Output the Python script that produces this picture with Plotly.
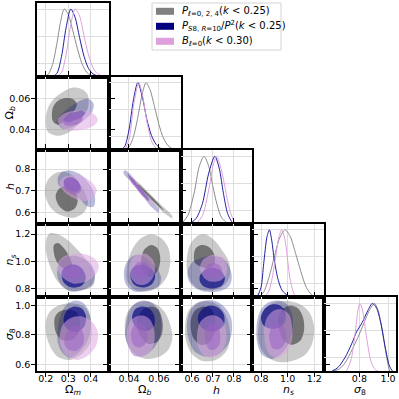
import plotly.graph_objects as go

# parameters, labels and plot ranges
params = ["om", "ob", "h", "ns", "s8"]
labels = ["Ω<sub><i>m</i></sub>", "Ω<sub><i>b</i></sub>", "<i>h</i>",
          "<i>n<sub>s</sub></i>", "<i>σ</i><sub>8</sub>"]
ranges = {"om": [0.161, 0.480], "ob": [0.0265, 0.0745], "h": [0.546, 0.888],
          "ns": [0.735, 1.275], "s8": [0.555, 1.055]}
xticks = {"om": [0.2, 0.3, 0.4], "ob": [0.04, 0.06], "h": [0.6, 0.7, 0.8],
          "ns": [0.8, 1.0, 1.2], "s8": [0.8, 1.0]}
yticks = {"om": [0.2, 0.3, 0.4], "ob": [0.04, 0.06], "h": [0.6, 0.7, 0.8],
          "ns": [0.8, 1.0, 1.2], "s8": [0.6, 0.8, 1.0]}
ticktext = {"om": ["0.2", "0.3", "0.4"], "ob": ["0.04", "0.06"], "h": ["0.6", "0.7", "0.8"],
            "ns": ["0.8", "1.0", "1.2"], "s8": ["0.6", "0.8", "1.0"]}

legend_names = ["<i>P</i><sub>ℓ=0, 2, 4</sub>(<i>k</i> &lt; 0.25)",
                "<i>P</i><sub><i>S</i>8, <i>R</i>=10</sub>/<i>P</i><sup>2</sup>(<i>k</i> &lt; 0.25)",
                "<i>B</i><sub>ℓ=0</sub>(<i>k</i> &lt; 0.30)"]

# 1D marginals (x, normalised density)
pdf_om = dict(
    gray=[(0.19, 0), (0.21, 0.03), (0.23, 0.18), (0.25, 0.5), (0.265, 0.8), (0.282, 1.0), (0.30, 0.92),
          (0.32, 0.68), (0.34, 0.42), (0.36, 0.2), (0.38, 0.07), (0.40, 0.02), (0.42, 0)],
    blue=[(0.23, 0), (0.25, 0.05), (0.27, 0.3), (0.29, 0.72), (0.311, 1.0), (0.33, 0.88), (0.35, 0.58),
          (0.37, 0.3), (0.39, 0.12), (0.41, 0.04), (0.43, 0.01), (0.45, 0)],
    pink=[(0.25, 0), (0.27, 0.06), (0.29, 0.32), (0.31, 0.75), (0.33, 1.0), (0.35, 0.9), (0.37, 0.6),
          (0.39, 0.32), (0.41, 0.13), (0.43, 0.04), (0.45, 0.01), (0.47, 0)],
)
pdf_ob = dict(
    gray=[(0.036, 0), (0.040, 0.05), (0.043, 0.2), (0.046, 0.5), (0.049, 0.85), (0.0514, 1.0), (0.054, 0.9),
          (0.057, 0.65), (0.060, 0.38), (0.063, 0.18), (0.066, 0.07), (0.069, 0.02), (0.072, 0)],
    blue=[(0.034, 0), (0.037, 0.05), (0.040, 0.3), (0.043, 0.75), (0.0459, 1.0), (0.049, 0.78), (0.052, 0.45),
          (0.055, 0.22), (0.058, 0.09), (0.061, 0.03), (0.064, 0.01), (0.067, 0)],
    pink=[(0.037, 0), (0.040, 0.15), (0.043, 0.65), (0.0465, 1.0), (0.049, 0.82), (0.052, 0.42),
          (0.055, 0.14), (0.058, 0.03), (0.061, 0)],
)
pdf_h = dict(
    gray=[(0.55, 0), (0.58, 0.12), (0.61, 0.45), (0.635, 0.85), (0.658, 1.0), (0.68, 0.85), (0.70, 0.55),
          (0.72, 0.28), (0.74, 0.1), (0.76, 0.03), (0.78, 0)],
    blue=[(0.59, 0), (0.62, 0.08), (0.65, 0.3), (0.68, 0.75), (0.709, 1.0), (0.73, 0.82), (0.75, 0.45),
          (0.77, 0.15), (0.79, 0.03), (0.80, 0)],
    pink=[(0.62, 0), (0.65, 0.12), (0.68, 0.5), (0.70, 0.85), (0.717, 1.0), (0.74, 0.8), (0.76, 0.5),
          (0.78, 0.2), (0.80, 0.04), (0.81, 0)],
)
pdf_ns = dict(
    gray=[(0.78, 0), (0.82, 0.08), (0.86, 0.3), (0.90, 0.6), (0.94, 0.88), (0.981, 1.0), (1.02, 0.9),
          (1.06, 0.65), (1.10, 0.38), (1.14, 0.15), (1.18, 0.04), (1.21, 0)],
    blue=[(0.77, 0), (0.80, 0.15), (0.82, 0.5), (0.845, 0.9), (0.863, 1.0), (0.88, 0.85), (0.90, 0.55),
          (0.93, 0.25), (0.96, 0.1), (1.0, 0.03), (1.04, 0.01), (1.08, 0)],
    pink=[(0.81, 0), (0.85, 0.06), (0.88, 0.25), (0.91, 0.6), (0.935, 0.9), (0.956, 1.0), (0.98, 0.85),
          (1.0, 0.55), (1.02, 0.25), (1.05, 0.05), (1.08, 0)],
)
pdf_s8 = dict(
    gray=[(0.62, 0), (0.66, 0.03), (0.70, 0.12), (0.75, 0.32), (0.79, 0.5), (0.83, 0.7), (0.87, 0.9),
          (0.905, 1.0), (0.93, 0.9), (0.96, 0.6), (0.99, 0.2), (1.01, 0)],
    blue=[(0.61, 0), (0.65, 0.05), (0.70, 0.2), (0.75, 0.42), (0.78, 0.58), (0.82, 0.72), (0.86, 0.9),
          (0.89, 1.0), (0.92, 0.93), (0.95, 0.7), (0.98, 0.35), (1.01, 0.07), (1.03, 0)],
    pink=[(0.71, 0), (0.74, 0.15), (0.77, 0.55), (0.79, 0.9), (0.804, 1.0), (0.82, 0.92), (0.85, 0.5),
          (0.88, 0.15), (0.91, 0.02), (0.93, 0)],
)
pdfs = [pdf_om, pdf_ob, pdf_h, pdf_ns, pdf_s8]

# 2D contours: (x, y) outlines of the 95% and 68% regions
c_om_ob = dict(
    gray_2s=[(0.200, 0.0476), (0.218, 0.0567), (0.262, 0.0631), (0.316, 0.0673), (0.360, 0.0664), (0.387, 0.0625),
             (0.387, 0.0541), (0.351, 0.0451), (0.307, 0.0386), (0.253, 0.0360), (0.209, 0.0386)],
    gray_1s=[(0.231, 0.0541), (0.253, 0.0586), (0.289, 0.0605), (0.320, 0.0599), (0.338, 0.0567), (0.324, 0.0515),
             (0.289, 0.0464), (0.253, 0.0431), (0.231, 0.0457)],
    blue_2s=[(0.249, 0.0451), (0.271, 0.0502), (0.316, 0.0554), (0.360, 0.0593), (0.391, 0.0599), (0.413, 0.0567),
             (0.404, 0.0509), (0.373, 0.0464), (0.324, 0.0418), (0.276, 0.0405)],
    blue_1s=[(0.280, 0.0462), (0.300, 0.0495), (0.333, 0.0515), (0.362, 0.0522), (0.375, 0.0510), (0.360, 0.0482),
             (0.328, 0.0460), (0.295, 0.0447)],
    pink_2s=[(0.253, 0.0464), (0.280, 0.0502), (0.324, 0.0522), (0.373, 0.0522), (0.413, 0.0502), (0.431, 0.0464),
             (0.413, 0.0425), (0.360, 0.0399), (0.307, 0.0393), (0.267, 0.0418)],
    pink_1s=[(0.276, 0.0457), (0.293, 0.0483), (0.324, 0.0496), (0.356, 0.0489), (0.364, 0.0464), (0.347, 0.0438),
             (0.311, 0.0425), (0.284, 0.0431)],
)
c_om_h = dict(
    gray_2s=[(0.196, 0.692), (0.209, 0.749), (0.244, 0.782), (0.289, 0.787), (0.333, 0.758), (0.369, 0.702),
             (0.387, 0.645), (0.369, 0.598), (0.324, 0.574), (0.271, 0.584), (0.222, 0.621)],
    gray_1s=[(0.244, 0.678), (0.262, 0.711), (0.298, 0.721), (0.329, 0.697), (0.342, 0.654), (0.329, 0.617),
             (0.293, 0.603), (0.258, 0.631)],
    blue_2s=[(0.253, 0.758), (0.271, 0.787), (0.307, 0.794), (0.351, 0.777), (0.391, 0.735), (0.418, 0.678),
             (0.413, 0.626), (0.387, 0.626), (0.342, 0.669), (0.289, 0.702), (0.258, 0.725)],
    blue_1s=[(0.280, 0.745), (0.295, 0.760), (0.322, 0.760), (0.345, 0.740), (0.355, 0.712), (0.340, 0.695),
             (0.308, 0.705), (0.285, 0.722)],
    pink_2s=[(0.262, 0.735), (0.280, 0.763), (0.316, 0.772), (0.360, 0.768), (0.404, 0.739), (0.427, 0.702),
             (0.409, 0.669), (0.364, 0.650), (0.316, 0.669), (0.280, 0.697)],
    pink_1s=[(0.280, 0.735), (0.298, 0.754), (0.329, 0.754), (0.351, 0.730), (0.356, 0.697), (0.333, 0.683),
             (0.302, 0.692), (0.284, 0.711)],
)
c_ob_h = dict(
    gray_2s=[(0.0402, 0.768), (0.0460, 0.740), (0.0548, 0.680), (0.0636, 0.620), (0.0687, 0.585), (0.0690, 0.572),
             (0.0629, 0.600), (0.0541, 0.660), (0.0453, 0.720), (0.0402, 0.755)],
    gray_1s=[(0.0462, 0.730), (0.0510, 0.700), (0.0583, 0.650), (0.0637, 0.605), (0.0601, 0.625), (0.0520, 0.680),
             (0.0461, 0.720)],
    blue_2s=[(0.0372, 0.795), (0.0404, 0.780), (0.0473, 0.720), (0.0543, 0.660), (0.0600, 0.612), (0.0598, 0.598),
             (0.0555, 0.620), (0.0485, 0.680), (0.0416, 0.740), (0.0362, 0.782)],
    blue_1s=[(0.0390, 0.776), (0.0430, 0.750), (0.0488, 0.700), (0.0535, 0.660), (0.0532, 0.652), (0.0493, 0.680),
             (0.0447, 0.720), (0.0401, 0.760)],
    pink_2s=[(0.0390, 0.777), (0.0449, 0.740), (0.0518, 0.680), (0.0559, 0.645), (0.0554, 0.632), (0.0510, 0.660),
             (0.0440, 0.720), (0.0394, 0.760)],
    pink_1s=[(0.0415, 0.756), (0.0450, 0.730), (0.0500, 0.690), (0.0510, 0.670), (0.0495, 0.672), (0.0445, 0.712),
             (0.0412, 0.742)],
)
c_om_ns = dict(
    gray_2s=[(0.218, 1.206), (0.253, 1.199), (0.298, 1.155), (0.342, 1.083), (0.387, 0.996), (0.418, 0.902),
             (0.409, 0.822), (0.360, 0.786), (0.298, 0.786), (0.253, 0.851), (0.218, 0.967), (0.200, 1.083),
             (0.204, 1.170)],
    gray_1s=[(0.236, 1.119), (0.253, 1.134), (0.280, 1.097), (0.307, 1.025), (0.316, 0.967), (0.298, 0.938),
             (0.262, 0.967), (0.240, 1.032)],
    blue_2s=[(0.253, 0.952), (0.271, 1.010), (0.307, 1.039), (0.351, 1.032), (0.396, 0.989), (0.418, 0.916),
             (0.409, 0.836), (0.369, 0.793), (0.316, 0.778), (0.276, 0.815), (0.253, 0.880)],
    blue_1s=[(0.271, 0.923), (0.298, 0.967), (0.333, 0.974), (0.364, 0.938), (0.378, 0.880), (0.360, 0.822),
             (0.316, 0.807), (0.280, 0.844)],
    pink_2s=[(0.253, 0.981), (0.276, 1.032), (0.316, 1.054), (0.369, 1.054), (0.413, 1.025), (0.436, 0.967),
             (0.422, 0.902), (0.378, 0.851), (0.324, 0.836), (0.280, 0.873), (0.258, 0.923)],
    pink_1s=[(0.276, 0.938), (0.293, 0.967), (0.329, 0.974), (0.360, 0.952), (0.369, 0.909), (0.342, 0.880),
             (0.302, 0.880), (0.280, 0.902)],
)
c_ob_ns = dict(
    gray_2s=[(0.0393, 0.996), (0.0427, 1.097), (0.0481, 1.170), (0.0548, 1.199), (0.0615, 1.170), (0.0663, 1.097),
             (0.0676, 0.996), (0.0656, 0.894), (0.0602, 0.815), (0.0521, 0.778), (0.0434, 0.793), (0.0386, 0.865)],
    gray_1s=[(0.0481, 1.010), (0.0501, 1.083), (0.0548, 1.119), (0.0589, 1.097), (0.0609, 1.025), (0.0595, 0.938),
             (0.0548, 0.887), (0.0501, 0.909)],
    blue_2s=[(0.0366, 0.923), (0.0386, 0.996), (0.0427, 1.039), (0.0481, 1.047), (0.0528, 1.010), (0.0582, 0.952),
             (0.0615, 0.880), (0.0595, 0.815), (0.0521, 0.786), (0.0434, 0.778), (0.0380, 0.829)],
    blue_1s=[(0.0407, 0.909), (0.0434, 0.960), (0.0488, 0.974), (0.0541, 0.952), (0.0575, 0.894), (0.0555, 0.836),
             (0.0494, 0.807), (0.0434, 0.829)],
    pink_2s=[(0.0400, 0.952), (0.0420, 1.018), (0.0461, 1.054), (0.0514, 1.054), (0.0555, 1.018), (0.0575, 0.960),
             (0.0562, 0.887), (0.0521, 0.836), (0.0461, 0.829), (0.0413, 0.880)],
    pink_1s=[(0.0434, 0.938), (0.0447, 0.981), (0.0481, 0.996), (0.0521, 0.981), (0.0535, 0.938), (0.0521, 0.894),
             (0.0481, 0.880), (0.0447, 0.894)],
)
c_h_ns = dict(
    gray_2s=[(0.576, 1.025), (0.590, 1.119), (0.624, 1.184), (0.662, 1.199), (0.700, 1.163), (0.743, 1.083),
             (0.776, 0.996), (0.781, 0.894), (0.752, 0.822), (0.695, 0.786), (0.628, 0.800), (0.590, 0.865),
             (0.576, 0.938)],
    gray_1s=[(0.609, 1.039), (0.619, 1.097), (0.647, 1.119), (0.681, 1.105), (0.705, 1.054), (0.709, 0.989),
             (0.686, 0.952), (0.643, 0.960), (0.614, 0.989)],
    blue_2s=[(0.581, 0.938), (0.605, 0.996), (0.647, 1.025), (0.695, 1.039), (0.743, 1.025), (0.776, 0.967),
             (0.790, 0.880), (0.776, 0.815), (0.724, 0.778), (0.657, 0.778), (0.605, 0.815), (0.581, 0.873)],
    blue_1s=[(0.638, 0.894), (0.662, 0.938), (0.700, 0.952), (0.738, 0.931), (0.757, 0.880), (0.743, 0.822),
             (0.700, 0.800), (0.657, 0.815), (0.638, 0.851)],
    pink_2s=[(0.638, 0.952), (0.652, 1.010), (0.681, 1.039), (0.714, 1.047), (0.748, 1.025), (0.766, 0.967),
             (0.762, 0.902), (0.733, 0.858), (0.690, 0.851), (0.657, 0.880)],
    pink_1s=[(0.662, 0.938), (0.676, 0.974), (0.700, 0.989), (0.728, 0.974), (0.743, 0.938), (0.733, 0.894),
             (0.700, 0.880), (0.671, 0.894)],
)
c_om_s8 = dict(
    gray_2s=[(0.204, 0.918), (0.227, 0.973), (0.271, 1.007), (0.324, 1.014), (0.369, 0.993), (0.396, 0.932),
             (0.404, 0.836), (0.396, 0.740), (0.360, 0.671), (0.307, 0.630), (0.253, 0.651), (0.218, 0.726),
             (0.200, 0.822)],
    gray_1s=[(0.240, 0.918), (0.262, 0.959), (0.298, 0.973), (0.333, 0.959), (0.351, 0.904), (0.347, 0.822),
             (0.316, 0.767), (0.271, 0.767), (0.244, 0.822)],
    blue_2s=[(0.253, 0.836), (0.267, 0.939), (0.293, 1.007), (0.329, 1.034), (0.364, 1.021), (0.391, 0.966),
             (0.400, 0.870), (0.387, 0.767), (0.351, 0.685), (0.307, 0.644), (0.271, 0.685), (0.253, 0.754)],
    blue_1s=[(0.280, 0.918), (0.298, 0.973), (0.329, 0.993), (0.360, 0.980), (0.378, 0.932), (0.373, 0.863),
             (0.342, 0.822), (0.307, 0.829), (0.284, 0.863)],
    pink_2s=[(0.262, 0.802), (0.280, 0.877), (0.316, 0.918), (0.360, 0.925), (0.404, 0.891), (0.431, 0.822),
             (0.427, 0.740), (0.396, 0.671), (0.342, 0.630), (0.293, 0.658), (0.267, 0.726)],
    pink_1s=[(0.284, 0.781), (0.298, 0.836), (0.324, 0.863), (0.351, 0.850), (0.369, 0.795), (0.364, 0.733),
             (0.338, 0.692), (0.302, 0.699), (0.284, 0.733)],
)
c_ob_s8 = dict(
    gray_2s=[(0.0373, 0.891), (0.0400, 0.973), (0.0447, 1.014), (0.0514, 1.028), (0.0582, 1.007), (0.0636, 0.959),
             (0.0676, 0.870), (0.0690, 0.781), (0.0663, 0.699), (0.0602, 0.651), (0.0514, 0.637), (0.0440, 0.671),
             (0.0386, 0.754)],
    gray_1s=[(0.0461, 0.918), (0.0494, 0.973), (0.0548, 0.993), (0.0595, 0.973), (0.0622, 0.904), (0.0622, 0.815),
             (0.0589, 0.754), (0.0528, 0.740), (0.0481, 0.788), (0.0454, 0.850)],
    blue_2s=[(0.0380, 0.870), (0.0400, 0.959), (0.0440, 1.014), (0.0494, 1.034), (0.0548, 1.021), (0.0595, 0.973),
             (0.0615, 0.891), (0.0609, 0.795), (0.0568, 0.713), (0.0501, 0.658), (0.0434, 0.658), (0.0393, 0.726),
             (0.0373, 0.802)],
    blue_1s=[(0.0420, 0.918), (0.0440, 0.973), (0.0488, 0.993), (0.0535, 0.980), (0.0568, 0.932), (0.0568, 0.863),
             (0.0528, 0.829), (0.0474, 0.836), (0.0434, 0.870)],
    pink_2s=[(0.0386, 0.822), (0.0407, 0.891), (0.0447, 0.925), (0.0494, 0.932), (0.0541, 0.904), (0.0568, 0.836),
             (0.0568, 0.747), (0.0535, 0.678), (0.0481, 0.651), (0.0420, 0.678), (0.0393, 0.740)],
    pink_1s=[(0.0413, 0.815), (0.0434, 0.863), (0.0467, 0.884), (0.0501, 0.870), (0.0521, 0.822), (0.0521, 0.760),
             (0.0488, 0.719), (0.0447, 0.719), (0.0420, 0.754)],
)
c_h_s8 = dict(
    gray_2s=[(0.571, 0.904), (0.590, 0.980), (0.628, 1.021), (0.676, 1.028), (0.719, 1.007), (0.752, 0.959),
             (0.776, 0.870), (0.781, 0.767), (0.762, 0.685), (0.714, 0.630), (0.652, 0.623), (0.600, 0.671),
             (0.571, 0.767)],
    gray_1s=[(0.595, 0.904), (0.614, 0.966), (0.652, 0.993), (0.690, 0.980), (0.709, 0.918), (0.709, 0.822),
             (0.686, 0.754), (0.643, 0.733), (0.609, 0.774), (0.595, 0.836)],
    blue_2s=[(0.576, 0.870), (0.590, 0.959), (0.624, 1.014), (0.666, 1.034), (0.714, 1.028), (0.757, 0.986),
             (0.786, 0.918), (0.790, 0.822), (0.771, 0.733), (0.728, 0.671), (0.671, 0.651), (0.614, 0.685),
             (0.585, 0.767)],
    blue_1s=[(0.628, 0.918), (0.647, 0.973), (0.686, 1.000), (0.724, 0.986), (0.752, 0.939), (0.752, 0.870),
             (0.719, 0.829), (0.671, 0.829), (0.638, 0.863)],
    pink_2s=[(0.624, 0.802), (0.638, 0.884), (0.671, 0.925), (0.709, 0.932), (0.743, 0.904), (0.762, 0.836),
             (0.762, 0.747), (0.738, 0.678), (0.695, 0.644), (0.652, 0.665), (0.628, 0.726)],
    pink_1s=[(0.662, 0.802), (0.671, 0.856), (0.695, 0.884), (0.719, 0.870), (0.733, 0.815), (0.733, 0.747),
             (0.714, 0.706), (0.686, 0.699), (0.666, 0.740)],
)
c_ns_s8 = dict(
    gray_2s=[(0.778, 0.836), (0.800, 0.939), (0.853, 1.000), (0.928, 1.028), (1.018, 1.028), (1.109, 1.000),
             (1.169, 0.945), (1.199, 0.850), (1.184, 0.740), (1.131, 0.665), (1.033, 0.623), (0.921, 0.617),
             (0.830, 0.665), (0.785, 0.747)],
    gray_1s=[(0.928, 0.904), (0.958, 0.973), (1.018, 1.000), (1.079, 0.980), (1.116, 0.918), (1.124, 0.836),
             (1.094, 0.760), (1.026, 0.733), (0.966, 0.767), (0.936, 0.836)],
    blue_2s=[(0.770, 0.891), (0.800, 0.973), (0.853, 1.021), (0.921, 1.034), (0.988, 1.014), (1.026, 0.959),
             (1.041, 0.870), (1.018, 0.767), (0.966, 0.685), (0.883, 0.637), (0.808, 0.665), (0.770, 0.754)],
    blue_1s=[(0.800, 0.918), (0.830, 0.980), (0.883, 1.007), (0.943, 1.000), (0.981, 0.959), (0.981, 0.891),
             (0.936, 0.850), (0.868, 0.843), (0.815, 0.870)],
    pink_2s=[(0.823, 0.836), (0.845, 0.918), (0.898, 0.966), (0.958, 0.973), (1.011, 0.939), (1.033, 0.863),
             (1.033, 0.767), (0.996, 0.685), (0.928, 0.644), (0.861, 0.671), (0.830, 0.747)],
    pink_1s=[(0.861, 0.802), (0.883, 0.856), (0.921, 0.877), (0.966, 0.863), (0.988, 0.808), (0.981, 0.747),
             (0.943, 0.706), (0.891, 0.706), (0.868, 0.747)],
)
contours = {(1, 0): c_om_ob, (2, 0): c_om_h, (2, 1): c_ob_h, (3, 0): c_om_ns, (3, 1): c_ob_ns,
            (3, 2): c_h_ns, (4, 0): c_om_s8, (4, 1): c_ob_s8, (4, 2): c_h_s8, (4, 3): c_ns_s8}

sets = ["gray", "blue", "pink"]
fill = {"gray_2s": "rgba(128,128,128,0.42)", "gray_1s": "rgba(80,80,80,0.72)",
        "blue_2s": "rgba(30,30,140,0.3)", "blue_1s": "rgba(10,10,130,0.7)",
        "pink_2s": "rgba(221,165,225,0.52)", "pink_1s": "rgba(155,95,195,0.52)"}
line_col = {"gray": "#8c8c8c", "blue": "#2020a0", "pink": "#dda0dd"}
patch_col = {"gray": "#808080", "blue": "#000080", "pink": "#dda0dd"}
grid_col = "#dedede"


def ax_ref(k):
    return ("x", "y") if k == 1 else (f"x{k}", f"y{k}")


fig = go.Figure()
layout = {}

for i in range(5):
    for j in range(i + 1):
        k = i * 5 + j + 1
        xr, yr = ax_ref(k)
        px = params[j]
        if i == j:
            for s in sets:
                pts = pdfs[i][s]
                fig.add_trace(go.Scatter(
                    x=[p[0] for p in pts], y=[p[1] for p in pts], mode="lines",
                    line=dict(color=line_col[s], width=1, shape="spline", smoothing=0.8),
                    xaxis=xr, yaxis=yr, hoverinfo="skip", showlegend=False))
        else:
            cset = contours[(i, j)]
            for s in sets:
                for lev in ["2s", "1s"]:
                    pts = cset[f"{s}_{lev}"]
                    pts = pts + [pts[0]]
                    fig.add_trace(go.Scatter(
                        x=[p[0] for p in pts], y=[p[1] for p in pts], mode="lines",
                        fill="toself", fillcolor=fill[f"{s}_{lev}"],
                        line=dict(width=0, shape="spline", smoothing=0.9),
                        xaxis=xr, yaxis=yr, hoverinfo="skip", showlegend=False))

        xa = dict(domain=[j / 5, (j + 1) / 5], range=ranges[px], anchor=yr,
                  tickvals=xticks[px],
                  ticktext=[t for v, t in zip(yticks[px], ticktext[px]) if v in xticks[px]],
                  showticklabels=(i == 4), ticks="outside", ticklen=4, tickwidth=1.2,
                  tickcolor="black", showline=True, linecolor="black", linewidth=1.5,
                  mirror=True if i == j else "ticks", showgrid=True, gridcolor=grid_col,
                  gridwidth=1, zeroline=False, ticklabelstandoff=-6)
        if i == j:
            ya = dict(domain=[1 - (i + 1) / 5, 1 - i / 5], range=[0, 1.09], anchor=xr,
                      tickvals=[0.2, 0.6, 1.0], showticklabels=False, ticks="",
                      showline=True, linecolor="black", linewidth=1.5, mirror=True,
                      showgrid=True, gridcolor=grid_col, gridwidth=1, zeroline=False)
        else:
            py = params[i]
            ya = dict(domain=[1 - (i + 1) / 5, 1 - i / 5], range=ranges[py], anchor=xr,
                      tickvals=yticks[py], ticktext=ticktext[py],
                      showticklabels=(j == 0), ticks="outside", ticklen=4, tickwidth=1.2,
                      tickcolor="black", showline=True, linecolor="black", linewidth=1.5,
                      mirror="ticks", showgrid=True, gridcolor=grid_col, gridwidth=1,
                      zeroline=False, ticklabelstandoff=-1)
        layout["xaxis" if k == 1 else f"xaxis{k}"] = xa
        layout["yaxis" if k == 1 else f"yaxis{k}"] = ya

# axis titles
W, H = 399, 399
L, R, T, B = 37, 3, 3, 28
pw, ph = W - L - R, H - T - B


def xp(p):
    return (p - L) / pw


def yp(p):
    return (H - B - p) / ph


annotations = []
for j in range(5):
    annotations.append(dict(text=labels[j], x=(j + 0.5) / 5, y=yp(390), xref="paper", yref="paper",
                            showarrow=False, font=dict(size=11), xanchor="center", yanchor="middle"))
for i in range(1, 5):
    annotations.append(dict(text=labels[i], x=xp(10), y=1 - (i + 0.5) / 5, xref="paper", yref="paper",
                            showarrow=False, font=dict(size=11), textangle=-90,
                            xanchor="center", yanchor="middle"))

# legend box drawn by hand
shapes = [dict(type="rect", xref="paper", yref="paper", x0=xp(152), x1=xp(281), y0=yp(50), y1=yp(3),
               line=dict(color="#d4d4d4", width=1), fillcolor="rgba(255,255,255,0.85)", layer="above")]
for n, (s, name) in enumerate(zip(sets, legend_names)):
    cy = 11.3 + 15 * n
    shapes.append(dict(type="rect", xref="paper", yref="paper", x0=xp(156), x1=xp(174),
                       y0=yp(cy + 3.5), y1=yp(cy - 3.5), line=dict(width=0),
                       fillcolor=patch_col[s], layer="above"))
    annotations.append(dict(text=name, x=xp(180), y=yp(cy), xref="paper", yref="paper",
                            showarrow=False, font=dict(size=10), xanchor="left", yanchor="middle"))

fig.update_layout(
    width=W, height=H, margin=dict(l=L, r=R, t=T, b=B, autoexpand=False),
    plot_bgcolor="white", paper_bgcolor="white", showlegend=False,
    font=dict(family="DejaVu Sans", size=9.5, color="black"),
    annotations=annotations, shapes=shapes, **layout)

# drop the browser's default page margin so the figure sits at the window origin
fig.write_html("out.html", config={"displayModeBar": False},
               post_script="document.body.style.margin='0';document.body.style.overflow='hidden';")
